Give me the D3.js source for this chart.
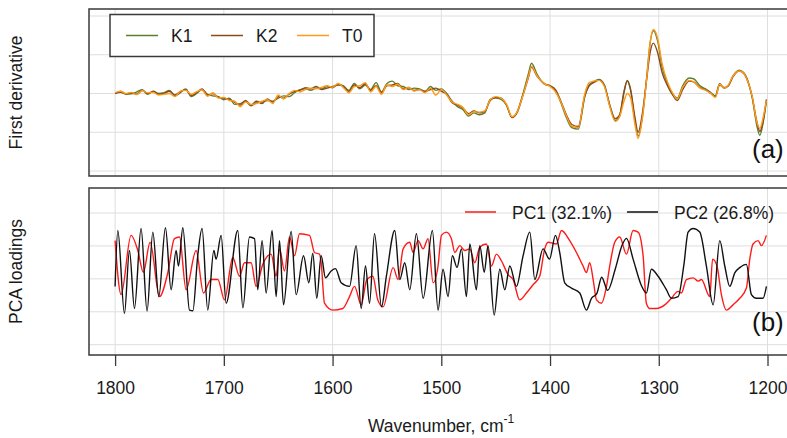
<!DOCTYPE html>
<html>
<head>
<meta charset="utf-8">
<script src="https://cdn.jsdelivr.net/npm/d3@7"></script>
<style>
  body { margin: 0; background: #fff; }
  svg { display: block; font-family: "Liberation Sans", Arial, sans-serif; }
</style>
</head>
<body>
<div id="chart"></div>
<script>
// ---- data ----
const xTicks = [1800, 1700, 1600, 1500, 1400, 1300, 1200];
const yGrid = [-2, -1, 0, 1, 2];

// first derivative spectra, shared wavenumber grid
const specWn = [1800,1795,1790,1785,1780,1775,1770,1765,1760,1755,1750,1745,1740,1735,1730,1725,1720,1715,1710,1705,
  1700,1695,1690,1685,1680,1675,1670,1665,1660,1655,1650,1645,1640,1635,1630,1625,1620,1615,1610,1605,
  1600,1595,1590,1585,1580,1575,1570,1565,1560,1555,1550,1545,1540,1535,1530,1525,1520,1515,1510,1505,
  1500,1495,1490,1485,1480,1475,1470,1465,1460,1455,1450,1445,1440,1435,1430,1425,1420,1417,1412,1405,
  1400,1395,1390,1385,1380,1374,1368,1364,1360,1355,1350,1345,1340,1336,1332,1329,1326,1322,1319,1315,
  1311,1308,1305,1301,1297,1292,1287,1283,1278,1272,1268,1262,1256,1252,1248,1244,1240,1236,1232,1226,
  1222,1218,1214,1210,1207,1204,1201];

const k1 = [0.00,0.05,-0.02,-0.01,0.04,0.10,-0.02,0.06,0.00,0.02,0.08,-0.06,0.02,0.12,-0.08,0.00,0.10,-0.02,-0.06,-0.08,
  -0.16,-0.12,-0.28,-0.26,-0.20,-0.32,-0.24,-0.22,-0.18,-0.20,-0.12,-0.06,-0.08,0.02,0.10,0.12,0.08,0.14,0.12,0.18,
  0.15,0.24,0.20,0.08,0.26,0.12,0.22,0.10,0.28,0.04,0.26,0.32,0.20,0.18,0.10,0.14,0.12,0.04,0.18,0.08,
  0.12,0.00,-0.20,-0.34,-0.42,-0.58,-0.50,-0.55,-0.50,-0.15,-0.12,-0.15,-0.30,-0.62,-0.46,-0.02,0.50,0.78,0.50,0.24,
  0.20,0.08,-0.24,-0.62,-0.88,-0.92,-0.08,0.22,0.30,0.36,0.22,-0.32,-0.70,-0.58,0.02,0.34,0.12,-0.70,-1.10,-0.60,
  0.45,1.30,1.62,1.35,0.70,0.26,-0.02,-0.12,0.20,0.40,0.38,0.20,0.10,0.02,-0.06,0.26,0.14,0.20,0.44,0.60,
  0.54,0.32,-0.12,-0.80,-1.08,-0.75,-0.20];

const k2 = [0.00,0.03,-0.01,0.02,-0.02,0.08,0.00,0.05,-0.02,0.00,0.06,-0.04,0.05,0.10,-0.05,0.02,0.12,-0.04,0.00,-0.10,
  -0.12,-0.15,-0.22,-0.30,-0.18,-0.30,-0.20,-0.26,-0.14,-0.22,-0.08,-0.12,-0.02,0.05,0.08,0.15,0.12,0.18,0.10,0.14,
  0.18,0.22,0.18,0.05,0.22,0.15,0.25,0.08,0.20,0.02,0.20,0.22,0.26,0.12,0.15,0.08,0.10,0.06,0.10,0.14,
  0.06,-0.02,-0.24,-0.30,-0.38,-0.52,-0.45,-0.50,-0.46,-0.18,-0.10,-0.12,-0.30,-0.62,-0.48,-0.05,0.40,0.68,0.45,0.25,
  0.20,0.10,-0.20,-0.55,-0.80,-0.85,-0.05,0.20,0.28,0.35,0.20,-0.30,-0.65,-0.55,0.05,0.32,0.10,-0.60,-1.00,-0.50,
  0.40,1.05,1.30,1.05,0.55,0.20,-0.05,-0.18,0.10,0.32,0.30,0.15,0.08,0.00,-0.08,0.22,0.15,0.20,0.42,0.58,
  0.52,0.30,-0.10,-0.70,-0.98,-0.70,-0.15];

const t0 = [0.02,0.06,0.00,0.03,-0.03,0.07,0.02,0.03,-0.04,-0.02,0.00,-0.08,0.06,0.08,-0.02,0.05,0.09,-0.07,0.02,-0.12,
  -0.10,-0.18,-0.20,-0.34,-0.22,-0.28,-0.26,-0.20,-0.16,-0.26,-0.04,-0.14,0.00,0.08,0.04,0.10,0.14,0.12,0.16,0.20,
  0.16,0.26,0.15,0.02,0.18,0.20,0.28,0.04,0.18,-0.02,0.22,0.18,0.24,0.10,0.16,0.06,0.10,0.02,0.14,-0.04,
  0.10,-0.04,-0.22,-0.28,-0.36,-0.55,-0.47,-0.48,-0.45,-0.16,-0.08,-0.12,-0.28,-0.60,-0.46,-0.06,0.42,0.70,0.46,0.25,
  0.18,0.04,-0.22,-0.58,-0.84,-0.88,0.00,0.28,0.32,0.34,0.18,-0.34,-0.72,-0.60,-0.20,0.00,-0.10,-0.78,-1.16,-0.62,
  0.42,1.30,1.65,1.42,0.78,0.30,0.00,-0.14,0.16,0.34,0.30,0.14,0.07,0.00,-0.10,0.24,0.14,0.22,0.44,0.58,
  0.53,0.30,-0.08,-0.72,-0.90,-0.62,-0.18];

// PCA loadings, [wavenumber, loading]
const pc1 = [[1800,1.16],[1794.5,-0.48],[1785.3,1.32],[1779.1,0.86],[1774,0.20],[1767.8,1.11],[1759.2,-0.54],[1751.5,0.19],
  [1745.4,1.22],[1740.8,1.27],[1734.7,-0.33],[1725.5,0.86],[1718.7,-0.43],[1711.7,-0.02],[1705.5,-0.02],[1699.4,-0.64],
  [1691.8,0.65],[1685.6,0.08],[1681,0.49],[1674.9,0.49],[1670.3,-0.23],[1664.2,0.44],[1656.5,0.75],[1651.9,0.08],
  [1648.8,0.91],[1644.2,0.24],[1639.6,1.27],[1635,0.70],[1630.4,1.37],[1621.2,1.32],[1616.6,0.80],[1612,0.75],
  [1610.5,0.49],[1607.4,-0.74],[1599.8,-0.95],[1590.6,-0.90],[1584.4,-0.54],[1579.8,-0.23],[1573.7,-0.79],[1568.5,-0.02],
  [1563,0.08],[1558.4,-0.64],[1553.5,-0.85],[1544.3,0.34],[1539.7,-0.02],[1535.1,0.91],[1529,1.11],[1526,0.80],
  [1521.3,1.16],[1516.7,0.91],[1512.2,1.22],[1507.5,-0.12],[1503,0.39],[1499.9,1.32],[1495.3,1.42],[1490.7,1.22],
  [1487.6,0.80],[1483,1.01],[1478.4,0.86],[1473.8,0.91],[1469.2,0.49],[1464.6,0.96],[1458.5,1.06],[1453.9,0.39],
  [1449.3,0.75],[1444.7,0.55],[1438.6,0.13],[1434,-0.02],[1427.9,-0.64],[1421.7,-0.43],[1415.6,-0.18],[1409.5,0.08],
  [1404.9,0.91],[1401.8,1.11],[1394.1,1.06],[1389.5,1.47],[1381.9,1.16],[1375.7,0.80],[1369.6,0.39],[1366.5,0.19],
  [1363.5,0.49],[1360,-0.10],[1357.3,-0.64],[1352.7,-0.74],[1348.1,-0.23],[1345.1,0.39],[1340.5,1.11],[1335.9,1.27],
  [1329.7,0.75],[1323.6,1.47],[1319,1.42],[1314.4,0.70],[1311.4,-0.74],[1308.3,-0.90],[1302.2,-0.90],[1294.5,-0.79],
  [1288.4,-0.59],[1282.2,-0.38],[1279.2,-0.43],[1274.6,-0.02],[1268.4,0.03],[1263.8,-0.07],[1260.8,-0.02],[1253.1,-0.54],
  [1250.5,0.60],[1246.5,0.40],[1242.4,-0.48],[1237.8,-0.95],[1231.7,-0.79],[1225.5,-0.59],[1219.4,-0.28],[1216.3,0.60],
  [1213.3,1.06],[1208.6,1.16],[1205.6,1.01],[1201,1.32]];

const pc2 = [[1800,-0.23],[1797.5,1.47],[1791.4,-1.05],[1786.8,0.86],[1782.2,-0.90],[1776.1,1.53],[1770.6,-0.98],[1765.3,1.42],
  [1759.8,-0.54],[1753.7,1.55],[1748.5,-0.33],[1743.9,0.86],[1741.7,0.39],[1737.7,1.55],[1731.6,-0.95],[1728.5,-0.97],
  [1724,0.70],[1720,1.53],[1714.8,-0.95],[1709.2,0.86],[1707.1,0.60],[1702.5,1.32],[1697.9,-0.74],[1687.2,1.47],
  [1682.5,-0.88],[1676.4,1.27],[1671.8,1.22],[1668.8,-0.33],[1664.8,1.16],[1661.1,-0.43],[1655.6,1.47],[1651.9,-0.54],
  [1648.8,1.16],[1645.1,-0.79],[1638.1,1.44],[1633.5,-0.48],[1626.7,0.70],[1621.8,-0.12],[1618.2,0.78],[1614.5,-0.59],
  [1610.5,0.70],[1606.5,0.03],[1601.3,0.24],[1597.3,0.31],[1592.1,-0.12],[1584.4,-0.23],[1578.3,1.01],[1573.7,-0.90],
  [1569.7,0.39],[1566,-0.74],[1561.4,1.37],[1555,-0.85],[1550.5,0.08],[1542.8,1.47],[1538.2,-0.02],[1533.6,0.49],
  [1529,-0.33],[1522.9,1.37],[1516.7,-0.59],[1508.2,1.47],[1503,-0.95],[1498.4,0.29],[1493.8,-0.54],[1489.8,0.70],
  [1485.5,0.35],[1481.5,0.91],[1476.9,-0.54],[1473.8,1.06],[1467.7,-0.33],[1464.6,1.01],[1460.5,0.20],[1457,1.01],
  [1451.4,-1.10],[1446.2,0.29],[1441.6,-0.33],[1437,0.39],[1430.9,-0.23],[1424.8,0.70],[1418.6,1.42],[1414,-0.02],
  [1406.4,0.91],[1400.5,0.60],[1395,1.32],[1391.1,0.80],[1386.5,-0.12],[1380.3,-0.28],[1372.7,-0.43],[1366.5,-0.95],
  [1361.9,-0.59],[1357,-0.45],[1352.5,0.05],[1347,-0.35],[1340,0.30],[1334,1.00],[1329.7,1.23],[1323.6,0.60],
  [1316,-0.20],[1311.4,-0.43],[1306.8,0.29],[1300.6,0.08],[1293,-0.33],[1288.4,-0.59],[1282.2,-0.54],[1277,0.40],
  [1273,1.42],[1268.4,1.53],[1262.3,1.42],[1256.2,0.39],[1250,-0.79],[1243.9,1.16],[1239.3,0.39],[1234.7,-0.23],
  [1230.1,0.18],[1225.5,0.34],[1219.4,0.44],[1214.8,-0.48],[1210.2,-0.59],[1204.1,-0.59],[1201,-0.23]];

const specSeries = [
  {name: 'K1', values: k1, color: '#5b7f2f'},
  {name: 'K2', values: k2, color: '#8b4a1c'},
  {name: 'T0', values: t0, color: '#ff9a1a'}
];
const pcSeries = [
  {name: 'PC1 (32.1%)', values: pc1, color: '#ff1a1a'},
  {name: 'PC2 (26.8%)', values: pc2, color: '#111111'}
];

// ---- layout ----
const width = 787, height = 438;
const svg = d3.select('#chart').append('svg')
  .attr('width', width).attr('height', height);

const x = d3.scaleLinear().domain([1824, 1176]).range([89, 793.6]);

const panels = [
  {id: 'a', top: 9, bottom: 176, y: d3.scaleLinear().domain([-2, 2]).range([171, 16]),
   title: 'First derivative', tag: '(a)', tagY: 157.5},
  {id: 'b', top: 188, bottom: 355, y: d3.scaleLinear().domain([-2, 2]).range([344.7, 213]),
   title: 'PCA loadings', tag: '(b)', tagY: 331}
];

const gridColor = '#dedede';
const frameColor = '#3a3a3a';

panels.forEach(p => {
  const g = svg.append('g').attr('class', 'panel-' + p.id);

  g.append('clipPath').attr('id', 'clip-' + p.id)
    .append('rect')
    .attr('x', x.range()[0]).attr('y', p.top)
    .attr('width', x.range()[1] - x.range()[0]).attr('height', p.bottom - p.top);

  // grid
  g.selectAll('.vgrid').data(xTicks).enter().append('line')
    .attr('x1', d => x(d)).attr('x2', d => x(d))
    .attr('y1', p.top).attr('y2', p.bottom)
    .attr('stroke', gridColor).attr('stroke-width', 1);
  g.selectAll('.hgrid').data(yGrid).enter().append('line')
    .attr('x1', x.range()[0]).attr('x2', x.range()[1])
    .attr('y1', d => p.y(d)).attr('y2', d => p.y(d))
    .attr('stroke', gridColor).attr('stroke-width', 1);

  // y title
  g.append('text')
    .attr('transform', `translate(22, ${(p.top + p.bottom) / 2}) rotate(-90)`)
    .attr('text-anchor', 'middle')
    .attr('font-size', '17.5px')
    .attr('fill', '#1a1a1a')
    .text(p.title);

  p.g = g;
});

// ---- spectra (a) ----
const pa = panels[0];
const lineA = d3.line()
  .x((d, i) => x(specWn[i]))
  .y(d => pa.y(d))
  .curve(d3.curveMonotoneX);

pa.g.append('g').attr('clip-path', 'url(#clip-a)')
  .selectAll('path').data(specSeries).enter().append('path')
  .attr('d', d => lineA(d.values))
  .attr('fill', 'none')
  .attr('stroke', d => d.color)
  .attr('stroke-width', 1.4);

// ---- loadings (b) ----
const pb = panels[1];
const lineB = d3.line()
  .x(d => x(d[0]))
  .y(d => pb.y(d[1]))
  .curve(d3.curveMonotoneX);

pb.g.append('g').attr('clip-path', 'url(#clip-b)')
  .selectAll('path').data(pcSeries).enter().append('path')
  .attr('d', d => lineB(d.values))
  .attr('fill', 'none')
  .attr('stroke', d => d.color)
  .attr('stroke-width', 1.4);

// frames + tags
panels.forEach(p => {
  p.g.append('rect')
    .attr('x', x.range()[0]).attr('y', p.top)
    .attr('width', x.range()[1] - x.range()[0] + 4).attr('height', p.bottom - p.top)
    .attr('fill', 'none').attr('stroke', frameColor).attr('stroke-width', 1.5);
  p.g.append('text')
    .attr('x', 752).attr('y', p.tagY)
    .attr('font-size', '26px').attr('fill', '#111')
    .text(p.tag);
});

// ---- legend (a): boxed ----
const legA = svg.append('g').attr('class', 'legend-a');
legA.append('rect')
  .attr('x', 110).attr('y', 14.5).attr('width', 264).attr('height', 42)
  .attr('fill', '#fff').attr('stroke', frameColor).attr('stroke-width', 1.5);
const legAx = [126, 211, 297];
specSeries.forEach((s, i) => {
  legA.append('line')
    .attr('x1', legAx[i]).attr('x2', legAx[i] + 32)
    .attr('y1', 35.5).attr('y2', 35.5)
    .attr('stroke', s.color).attr('stroke-width', 1.5);
  legA.append('text')
    .attr('x', legAx[i] + 45).attr('y', 42)
    .attr('font-size', '17.5px').attr('fill', '#1a1a1a')
    .text(s.name);
});

// ---- legend (b): no box ----
const legB = svg.append('g').attr('class', 'legend-b');
const legBx = [465, 627];
pcSeries.forEach((s, i) => {
  legB.append('line')
    .attr('x1', legBx[i]).attr('x2', legBx[i] + 31)
    .attr('y1', 212).attr('y2', 212)
    .attr('stroke', s.color).attr('stroke-width', 1.5);
  legB.append('text')
    .attr('x', legBx[i] + 47).attr('y', 218.5)
    .attr('font-size', '17.5px').attr('fill', '#1a1a1a')
    .text(s.name);
});

// ---- x axis ----
const xAxis = d3.axisBottom(x).tickValues(xTicks).tickFormat(d3.format('d'))
  .tickSize(11).tickPadding(16).tickSizeOuter(0);
const ax = svg.append('g')
  .attr('transform', `translate(0, ${pb.bottom})`)
  .call(xAxis);
ax.select('.domain').remove();
ax.selectAll('.tick line').attr('stroke', frameColor).attr('stroke-width', 1.3);
ax.selectAll('.tick text')
  .attr('font-size', '17.5px')
  .attr('font-family', '"Liberation Sans", Arial, sans-serif')
  .attr('fill', '#1a1a1a');

const xt = svg.append('text')
  .attr('x', 368).attr('y', 432)
  .attr('font-size', '17.5px').attr('fill', '#1a1a1a');
xt.append('tspan').text('Wavenumber, cm');
xt.append('tspan').attr('dy', -9).attr('font-size', '12px').text('-1');
</script>
</body>
</html>
